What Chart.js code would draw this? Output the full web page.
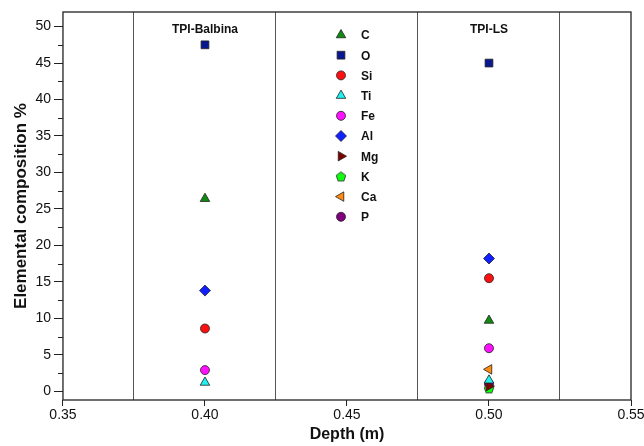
<!DOCTYPE html>
<html>
<head>
<meta charset="utf-8">
<script src="https://cdn.jsdelivr.net/npm/chart.js@4/dist/chart.umd.min.js"></script>
<style>
  html, body { margin: 0; padding: 0; background: #fff; overflow: hidden; }
  #wrap { width: 644px; height: 446px; overflow: hidden; }
</style>
</head>
<body>
<div id="wrap"><canvas id="chart" width="664" height="446"></canvas></div>
<script>
// sites and their depth (m)
var sites = ["TPI-Balbina", "TPI-LS"];
var depths = [0.40, 0.50];

// element % per site (null = not shown)
var elements = ["C", "O", "Si", "Ti", "Fe", "Al", "Mg", "K", "Ca", "P"];
var C  = [26.4, 9.7];
var O  = [47.5, 45.0];
var Si = [8.6, 15.5];
var Ti = [1.2, 1.5];
var Fe = [2.9, 5.9];
var Al = [13.8, 18.2];
var Mg = [null, 0.7];
var K  = [null, 0.4];
var Ca = [null, 3.0];
var P  = [null, 1.0];
var values = [C, O, Si, Ti, Fe, Al, Mg, K, Ca, P];

var xTicks = [0.35, 0.40, 0.45, 0.50, 0.55];
var yTicks = [0, 5, 10, 15, 20, 25, 30, 35, 40, 45, 50];

function pentagon(color) {
    var c = document.createElement("canvas");
    c.width = 12; c.height = 12;
    var g = c.getContext("2d");
    g.beginPath();
    for (var i = 0; i < 5; i++) {
        var a = -Math.PI / 2 + i * 2 * Math.PI / 5;
        var px = 6 + 5 * Math.cos(a), py = 6.5 + 5 * Math.sin(a);
        if (i === 0) g.moveTo(px, py); else g.lineTo(px, py);
    }
    g.closePath();
    g.fillStyle = color; g.fill();
    g.lineWidth = 0.8; g.strokeStyle = "#222"; g.stroke();
    return c;
}

var styles = [
    { color: "#118a11", shape: "triangle", rot: 0, r: 5.5 },
    { color: "#0a1890", shape: "rect", rot: 0, r: 5.5 },
    { color: "#ff1010", shape: "circle", rot: 0, r: 4.5 },
    { color: "#20f0f0", shape: "triangle", rot: 0, r: 5.5 },
    { color: "#ff10ff", shape: "circle", rot: 0, r: 4.5 },
    { color: "#1020ff", shape: "rectRot", rot: 0, r: 5.5 },
    { color: "#800000", shape: "triangle", rot: 90, r: 5.5 },
    { color: "#10ff10", shape: pentagon("#10ff10"), rot: 0, r: 5 },
    { color: "#ff8c10", shape: "triangle", rot: -90, r: 5.5 },
    { color: "#800080", shape: "circle", rot: 0, r: 4.5 }
];

var datasets = elements.map(function(el, i) {
    var pts = [];
    values[i].forEach(function(v, j) {
        if (v !== null) pts.push({ x: depths[j], y: v });
    });
    return {
        label: el,
        data: pts,
        pointStyle: styles[i].shape,
        rotation: styles[i].rot,
        pointRadius: styles[i].r,
        pointHoverRadius: styles[i].r,
        backgroundColor: styles[i].color,
        borderColor: "#222",
        borderWidth: 0.8
    };
});

function near(v, list) {
    return list.some(function(t) { return Math.abs(v - t) < 1e-6; });
}

var decor = {
    id: "decor",
    afterDatasetsDraw: function(chart) {
        var ctx = chart.ctx, a = chart.chartArea;
        var xs = chart.scales.x, ys = chart.scales.y;
        ctx.save();
        // frame
        ctx.strokeStyle = "#222";
        ctx.lineWidth = 1.3;
        ctx.strokeRect(a.left, a.top, a.right - a.left, a.bottom - a.top);
        // minor y ticks
        ctx.lineWidth = 1;
        ys.ticks.forEach(function(t) {
            if (near(t.value, yTicks)) return;
            var y = Math.round(ys.getPixelForValue(t.value)) + 0.5;
            ctx.beginPath();
            ctx.moveTo(a.left - 5, y);
            ctx.lineTo(a.left, y);
            ctx.stroke();
        });
        // site labels
        ctx.fillStyle = "#111";
        ctx.font = "bold 12px 'Liberation Sans', Arial, sans-serif";
        ctx.textAlign = "center";
        ctx.textBaseline = "middle";
        sites.forEach(function(s, j) {
            ctx.fillText(s, xs.getPixelForValue(depths[j]), 30);
        });
        // legend inside the plot
        ctx.textAlign = "left";
        chart.data.datasets.forEach(function(ds, i) {
            var y = 35 + i * 20.2;
            ctx.fillStyle = ds.backgroundColor;
            ctx.strokeStyle = "#222";
            ctx.lineWidth = 0.8;
            Chart.helpers.drawPoint(ctx, {
                pointStyle: ds.pointStyle, rotation: ds.rotation,
                radius: ds.pointRadius, borderWidth: 0.8
            }, 341, y);
            ctx.fillStyle = "#111";
            ctx.fillText(ds.label, 361, y + 1);
        });
        ctx.restore();
    }
};

new Chart(document.getElementById("chart"), {
    type: "scatter",
    data: { datasets: datasets },
    options: {
        responsive: false,
        animation: false,
        layout: { padding: { top: 12, right: 33, left: 11, bottom: 2 } },
        plugins: { legend: { display: false }, tooltip: { enabled: false } },
        scales: {
            x: {
                type: "linear",
                min: 0.35,
                max: 0.55,
                afterBuildTicks: function(s) {
                    var t = [];
                    for (var k = 0; k <= 8; k++) t.push({ value: +(0.35 + k * 0.025).toFixed(3) });
                    s.ticks = t;
                },
                ticks: {
                    color: "#111",
                    font: { family: "'Liberation Sans', Arial, sans-serif", size: 14 },
                    maxRotation: 0,
                    autoSkip: false,
                    padding: 1,
                    callback: function(v) { return near(v, xTicks) ? v.toFixed(2) : ""; }
                },
                grid: {
                    color: function(c) { return near(c.tick.value, xTicks) ? "rgba(0,0,0,0)" : "#555"; },
                    tickColor: function(c) { return near(c.tick.value, xTicks) ? "#222" : "rgba(0,0,0,0)"; },
                    tickLength: 6,
                    lineWidth: 1
                },
                border: { display: false },
                title: {
                    display: true,
                    text: "Depth (m)",
                    color: "#111",
                    font: { family: "'Liberation Sans', Arial, sans-serif", size: 16, weight: "bold" },
                    padding: { top: 0, bottom: 0 }
                }
            },
            y: {
                min: -1.2,
                max: 52,
                afterBuildTicks: function(s) {
                    var t = [];
                    for (var k = 0; k <= 20; k++) t.push({ value: k * 2.5 });
                    s.ticks = t;
                },
                ticks: {
                    color: "#111",
                    font: { family: "'Liberation Sans', Arial, sans-serif", size: 14 },
                    autoSkip: false,
                    padding: 3,
                    callback: function(v) { return near(v, yTicks) ? String(v) : ""; }
                },
                grid: {
                    drawOnChartArea: false,
                    tickColor: function(c) { return near(c.tick.value, yTicks) ? "#222" : "rgba(0,0,0,0)"; },
                    tickLength: 9
                },
                border: { display: false },
                title: {
                    display: true,
                    text: "Elemental composition %",
                    color: "#111",
                    font: { family: "'Liberation Sans', Arial, sans-serif", size: 17, weight: "bold" },
                    padding: { top: 0, bottom: 1 }
                }
            }
        }
    },
    plugins: [decor]
});
</script>
</body>
</html>
